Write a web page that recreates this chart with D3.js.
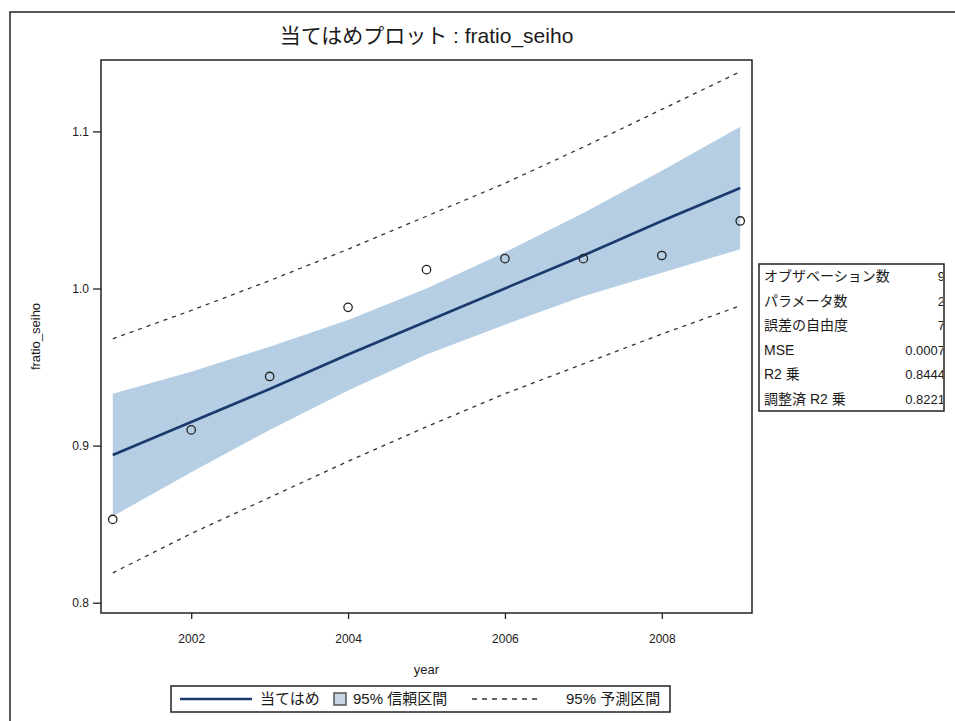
<!DOCTYPE html>
<html>
<head>
<meta charset="utf-8">
<script src="https://d3js.org/d3.v7.min.js"></script>
<style>
  body { margin: 0; background: #fff; }
  text { font-family: "Liberation Sans", "Noto Sans CJK JP", sans-serif; fill: #1a1a1a; }
</style>
</head>
<body>
<script>
// values
var years   = [2001, 2002, 2003, 2004, 2005, 2006, 2007, 2008, 2009];
var fratio  = [0.853, 0.910, 0.944, 0.988, 1.012, 1.019, 1.019, 1.021, 1.043];
var fitVals = [0.894, 0.915, 0.936, 0.958, 0.979, 1.000, 1.021, 1.043, 1.064];
var clLower = [0.855, 0.883, 0.910, 0.935, 0.958, 0.977, 0.995, 1.010, 1.025];
var clUpper = [0.933, 0.947, 0.963, 0.980, 1.000, 1.023, 1.048, 1.075, 1.103];
var plLower = [0.819, 0.844, 0.867, 0.890, 0.912, 0.933, 0.952, 0.971, 0.989];
var plUpper = [0.968, 0.986, 1.005, 1.025, 1.046, 1.067, 1.090, 1.114, 1.138];

var xTicks = [2002, 2004, 2006, 2008];
var yTicks = [0.8, 0.9, 1.0, 1.1];

var statLabels = ["オブザベーション数", "パラメータ数", "誤差の自由度", "MSE", "R2 乗", "調整済 R2 乗"];
var statValues = ["9", "2", "7", "0.0007", "0.8444", "0.8221"];

var legendLabels = ["当てはめ", "95% 信頼区間", "95% 予測区間"];

var W = 955, H = 721;
var plot = {left: 101, right: 752, top: 60, bottom: 613};

var svg = d3.select("body").append("svg")
    .attr("width", W)
    .attr("height", H);

svg.append("rect").attr("width", W).attr("height", H).style("fill", "#fff");

// outer frame (only left and top edges are in view)
svg.append("path")
    .attr("d", "M10," + H + "V12H" + W)
    .style("fill", "none").style("stroke", "#222").style("stroke-width", 1.5);

var x = d3.scaleLinear().domain([2000.85, 2009.15]).range([plot.left, plot.right]);
var y = d3.scaleLinear().domain([0.79344, 1.14545]).range([plot.bottom, plot.top]);

var rows = years.map(function(d, i) {
    return {year: d, v: fratio[i], fit: fitVals[i], cl: clLower[i], cu: clUpper[i], pl: plLower[i], pu: plUpper[i]};
});

// confidence band
var band = d3.area()
    .x(function(d) { return x(d.year); })
    .y0(function(d) { return y(d.cl); })
    .y1(function(d) { return y(d.cu); });
svg.append("path").datum(rows)
    .attr("d", band)
    .style("fill", "#b5cee3");

// prediction limits
["pl", "pu"].forEach(function(k) {
    svg.append("path").datum(rows)
        .attr("d", d3.line().x(function(d) { return x(d.year); }).y(function(d) { return y(d[k]); }))
        .style("fill", "none").style("stroke", "#333").style("stroke-width", 1.3)
        .style("stroke-dasharray", "4,5");
});

// fit line
svg.append("path").datum(rows)
    .attr("d", d3.line().x(function(d) { return x(d.year); }).y(function(d) { return y(d.fit); }))
    .style("fill", "none").style("stroke", "#1b3a6b").style("stroke-width", 2.6);

// observations
svg.selectAll("circle.obs").data(rows).enter()
    .append("circle")
    .attr("class", "obs")
    .attr("cx", function(d) { return x(d.year); })
    .attr("cy", function(d) { return y(d.v); })
    .attr("r", 4.2)
    .style("fill", "none").style("stroke", "#222").style("stroke-width", 1.3);

// plot frame
svg.append("rect")
    .attr("x", plot.left).attr("y", plot.top)
    .attr("width", plot.right - plot.left).attr("height", plot.bottom - plot.top)
    .style("fill", "none").style("stroke", "#222").style("stroke-width", 1.5);

// axes
var yAxis = svg.append("g")
    .attr("transform", "translate(" + plot.left + ",0)")
    .call(d3.axisLeft(y).tickValues(yTicks).tickFormat(d3.format(".1f")).tickSize(8).tickPadding(4));
var xAxis = svg.append("g")
    .attr("transform", "translate(0," + plot.bottom + ")")
    .call(d3.axisBottom(x).tickValues(xTicks).tickFormat(d3.format("d")).tickSize(6).tickPadding(15));
[yAxis, xAxis].forEach(function(g) {
    g.select(".domain").remove();
    g.selectAll(".tick line").style("stroke", "#222").style("stroke-width", 1.3);
    g.selectAll(".tick text").style("font-size", "12px").style("fill", "#1a1a1a")
        .style("font-family", "'Liberation Sans', sans-serif");
});

// titles
svg.append("text")
    .attr("x", (plot.left + plot.right) / 2).attr("y", 43)
    .attr("text-anchor", "middle")
    .style("font-size", "21px")
    .text("当てはめプロット : fratio_seiho");

svg.append("text")
    .attr("x", (plot.left + plot.right) / 2).attr("y", 674)
    .attr("text-anchor", "middle")
    .style("font-size", "13px")
    .text("year");

svg.append("text")
    .attr("transform", "translate(40," + (plot.top + plot.bottom) / 2 + ") rotate(-90)")
    .attr("text-anchor", "middle")
    .style("font-size", "13px")
    .text("fratio_seiho");

// fit statistics table
var tab = {left: 759, right: 944, top: 264, rowH: 24.5};
svg.append("clipPath").attr("id", "tabclip")
    .append("rect").attr("x", tab.left).attr("y", tab.top)
    .attr("width", tab.right - tab.left - 1).attr("height", tab.rowH * statLabels.length);
var tg = svg.append("g");
tg.append("rect")
    .attr("x", tab.left).attr("y", tab.top)
    .attr("width", tab.right - tab.left).attr("height", tab.rowH * statLabels.length)
    .style("fill", "#fff").style("stroke", "#222").style("stroke-width", 1.5);
var tx = tg.append("g").attr("clip-path", "url(#tabclip)");
tx.selectAll("text.lab").data(statLabels).enter()
    .append("text").attr("class", "lab")
    .attr("x", tab.left + 5)
    .attr("y", function(d, i) { return tab.top + tab.rowH * i + 17; })
    .style("font-size", "14px")
    .text(function(d) { return d; });
tx.selectAll("text.val").data(statValues).enter()
    .append("text").attr("class", "val")
    .attr("x", tab.right + 1)
    .attr("y", function(d, i) { return tab.top + tab.rowH * i + 17; })
    .attr("text-anchor", "end")
    .style("font-size", "13px")
    .text(function(d) { return d; });

// legend
var leg = {left: 171, right: 670, top: 686, bottom: 712};
var ly = (leg.top + leg.bottom) / 2;
svg.append("rect")
    .attr("x", leg.left).attr("y", leg.top)
    .attr("width", leg.right - leg.left).attr("height", leg.bottom - leg.top)
    .style("fill", "#fff").style("stroke", "#222").style("stroke-width", 1.5);
svg.append("line")
    .attr("x1", 180).attr("x2", 252).attr("y1", ly).attr("y2", ly)
    .style("stroke", "#1b3a6b").style("stroke-width", 2.6);
svg.append("rect")
    .attr("x", 334).attr("y", ly - 6).attr("width", 12).attr("height", 12)
    .style("fill", "#c9d6e3").style("stroke", "#555").style("stroke-width", 1.5);
svg.append("line")
    .attr("x1", 472).attr("x2", 542).attr("y1", ly).attr("y2", ly)
    .style("stroke", "#333").style("stroke-width", 1.3).style("stroke-dasharray", "5,5");
var legX = [260, 353, 566];
svg.selectAll("text.leg").data(legendLabels).enter()
    .append("text").attr("class", "leg")
    .attr("x", function(d, i) { return legX[i]; })
    .attr("y", ly + 5)
    .style("font-size", "15px")
    .text(function(d) { return d; });
</script>
</body>
</html>
